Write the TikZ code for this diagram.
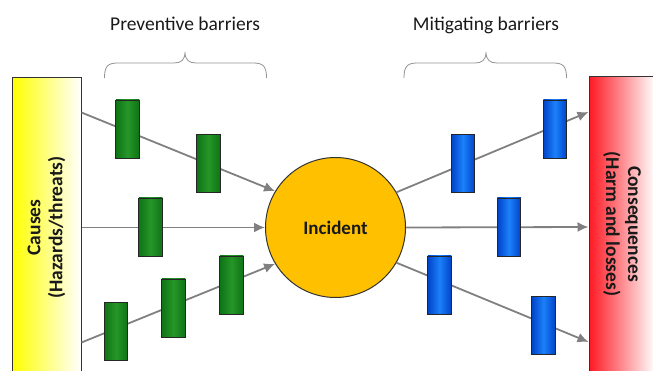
\documentclass[tikz,border=0pt]{standalone}
\usepackage{fontspec}
\setmainfont{Carlito}
\usetikzlibrary{positioning,arrows.meta,calc}
\definecolor{barriergreen}{RGB}{14,115,22}
\definecolor{barriergreenlight}{RGB}{38,150,40}
\definecolor{barrierblue}{RGB}{0,68,200}
\definecolor{barrierbluelight}{RGB}{28,128,250}
\definecolor{incidentgold}{RGB}{255,192,0}
\definecolor{causeyellow}{RGB}{255,255,0}
\definecolor{consred}{RGB}{255,25,35}
\definecolor{linegray}{RGB}{128,128,128}

\begin{document}
\begin{tikzpicture}[x=1pt,y=-1pt,
  every node/.style={font=\fontsize{19.5}{22}\selectfont,text=black!90},
  sidebox/.style={draw=black!80,line width=1pt,minimum width=69pt,minimum height=299pt,inner sep=0pt},
  barrier/.style={draw=black!85,line width=.8pt,minimum width=23.5pt,minimum height=58pt,inner sep=0pt},
  prev/.style={barrier,left color=barriergreen,right color=barriergreen,middle color=barriergreenlight},
  mitig/.style={barrier,left color=barrierblue,right color=barrierblue,middle color=barrierbluelight},
  flow/.style={draw=linegray,line width=1.8pt,-{Latex[length=11pt,width=10pt]}},
  brace/.style={draw=gray!85,line width=.8pt}]
\useasboundingbox (0,0) rectangle (653,371);

\node[sidebox,left color=causeyellow,right color=white] (causes) at (46.5,227.5) {};
\node[sidebox,minimum width=66pt,minimum height=300pt,left color=consred,right color=white] (conseq) at (622,227) {};
\node[rotate=90,align=center,font=\bfseries\fontsize{19.5}{22}\selectfont] (causestext) at (causes.center) {Causes\\(Hazards/threats)};
\node[rotate=-90,align=center,font=\bfseries\fontsize{19.5}{22}\selectfont] (conseqtext) at ([yshift=3pt]conseq.center) {Consequences\\(Harm and losses)};
\node[circle,draw=black!80,line width=1pt,fill=incidentgold,minimum size=140pt,inner sep=0pt,font=\bfseries\fontsize{19}{22}\selectfont] (incident) at (335.5,227.5) {Incident};

\draw[flow] ([yshift=115pt]causes.east) -- (incident.149);
\draw[flow] (causes.east) -- (incident.west);
\draw[flow] ([yshift=-115pt]causes.east) -- (incident.211);
\draw[flow] (incident.30) -- ([yshift=115pt]conseq.west);
\draw[flow] (incident.east) -- (conseq.west);
\draw[flow] (incident.-30) -- ([yshift=-115pt]conseq.west);

\node[prev] (p1) at (127.5,129) {};
\node[prev] (p2) at (208.5,163.5) {};
\node[prev] (p3) at (150.5,227) {};
\node[prev] (p4) at (116,331) {};
\node[prev] (p5) at (173.5,308) {};
\node[prev] (p6) at (231.5,285) {};
\node[mitig] (m1) at (463,163.5) {};
\node[mitig] (m2) at (555,129) {};
\node[mitig] (m3) at (509,227) {};
\node[mitig] (m4) at (439.5,285) {};
\node[mitig] (m5) at (543.5,325.5) {};

\draw[brace] (104.5,78) .. controls (104.5,66) and (108,63) .. (118,63) -- (174,63) .. controls (181,63) and (185,60) .. (185,52) .. controls (185,60) and (189,63) .. (196,63) -- (253,63) .. controls (263,63) and (266.5,66) .. (266.5,78);
\draw[brace] (404,78) .. controls (404,66) and (407.5,63) .. (417.5,63) -- (475,63) .. controls (482,63) and (486,60) .. (486,52) .. controls (486,60) and (490,63) .. (497,63) -- (553,63) .. controls (563,63) and (566.5,66) .. (566.5,78);
\node[anchor=base] (prevtitle) at (185,31) {Preventive barriers};
\node[anchor=base] (mitigtitle) at (486,31) {Mitigating barriers};
\end{tikzpicture}
\end{document}
